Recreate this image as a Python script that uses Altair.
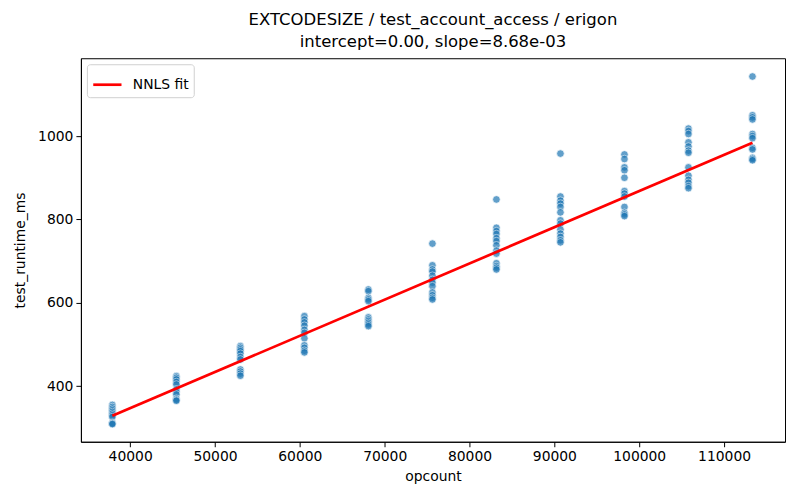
import altair as alt
import pandas as pd

x_cols = [37900, 45445, 52990, 60535, 68080, 75625, 83170, 90715, 98260, 105805, 113350]
y_cols = [
    [355, 350, 346, 342, 338, 334, 330, 326, 312, 310, 309],
    [424, 420, 416, 410, 404, 392, 386, 380, 370, 367, 365],
    [496, 492, 488, 484, 478, 470, 464, 440, 435, 430, 425],
    [568, 560, 553, 545, 535, 528, 515, 498, 492, 485, 481],
    [632, 628, 612, 608, 604, 565, 560, 556, 552, 548, 544],
    [742, 690, 680, 675, 665, 655, 648, 640, 625, 618, 612, 608],
    [848, 780, 772, 765, 755, 748, 738, 725, 718, 695, 688, 684, 680],
    [958, 855, 845, 838, 830, 817, 798, 790, 776, 766, 758, 750, 745],
    [956, 945, 925, 918, 900, 868, 862, 855, 830, 816, 812, 808],
    [1018, 1012, 1005, 985, 975, 965, 960, 925, 905, 895, 888, 880, 875],
    [1143, 1050, 1045, 1040, 1005, 1000, 995, 972, 968, 948, 945, 942],
]
intercept = 0.0
slope = 8.68e-03

rows = []
for xv, ys in zip(x_cols, y_cols):
    for yv in ys:
        rows.append({"opcount": xv, "test_runtime_ms": yv})
pts = pd.DataFrame(rows)

fit = pd.DataFrame({
    "opcount": [min(x_cols), max(x_cols)],
    "test_runtime_ms": [intercept + slope * min(x_cols), intercept + slope * max(x_cols)],
    "series": ["NNLS fit", "NNLS fit"],
})

xscale = alt.Scale(domain=[34193, 117185], nice=False, zero=False)
yscale = alt.Scale(domain=[266.6, 1186.8], nice=False, zero=False)
xaxis = alt.Axis(values=[40000, 50000, 60000, 70000, 80000, 90000, 100000, 110000], format="d",
                 grid=False, title="opcount")
yaxis = alt.Axis(values=[400, 600, 800, 1000], format="d", grid=False, title="test_runtime_ms",
                 titlePadding=10)

scatter = alt.Chart(pts).mark_circle(size=58, color="#1f77b4", opacity=0.7,
                                     stroke="white", strokeWidth=0.7).encode(
    x=alt.X("opcount:Q", scale=xscale, axis=xaxis),
    y=alt.Y("test_runtime_ms:Q", scale=yscale, axis=yaxis),
)

line = alt.Chart(fit).mark_line(strokeWidth=2.7).encode(
    x=alt.X("opcount:Q", scale=xscale),
    y=alt.Y("test_runtime_ms:Q", scale=yscale),
    color=alt.Color("series:N", scale=alt.Scale(domain=["NNLS fit"], range=["red"]),
                    legend=alt.Legend(title=None, orient="top-left", symbolType="stroke",
                                      symbolStrokeWidth=2.7, symbolSize=800,
                                      labelFontSize=13.9, labelFont="DejaVu Sans",
                                      labelColor="black", labelOffset=10,
                                      strokeColor="#d0d0d0", fillColor="white",
                                      padding=5, cornerRadius=3, offset=6)),
)

chart = alt.layer(scatter, line).properties(
    width=705, height=384,
    title=alt.Title(["EXTCODESIZE / test_account_access / erigon",
                     "intercept=0.00, slope=8.68e-03"],
                    fontSize=16.5, font="DejaVu Sans", fontWeight="normal",
                    color="black", anchor="middle", offset=8, lineHeight=22),
    padding={"left": 73, "top": 50, "right": 7, "bottom": 50},
    autosize=alt.AutoSizeParams(type="none"),
).configure_view(stroke="black", strokeWidth=1).configure_axis(
    labelFont="DejaVu Sans", titleFont="DejaVu Sans", labelFontSize=13.9, titleFontSize=13.9,
    titleFontWeight="normal", labelColor="black", titleColor="black",
    domainColor="black", tickColor="black", tickSize=5, labelPadding=3, titlePadding=6,
)

chart.save("out.html", embed_options={"renderer": "svg", "actions": False})
